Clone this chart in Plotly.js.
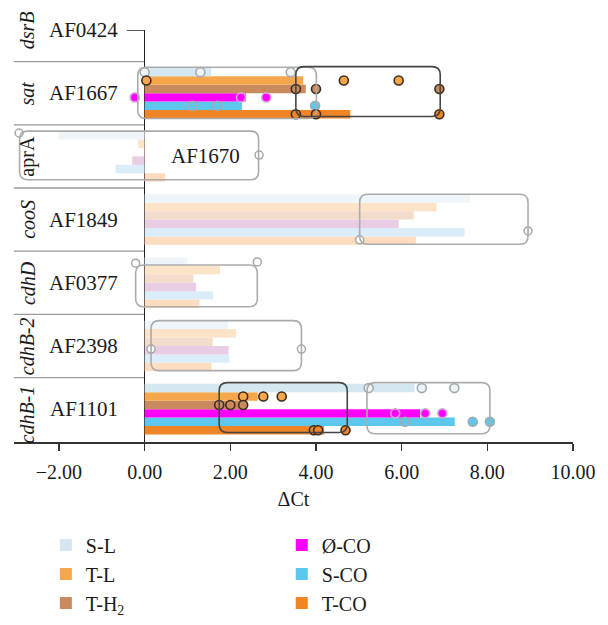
<!DOCTYPE html>
<html><head><meta charset="utf-8">
<script src="https://cdn.plot.ly/plotly-3.0.1.min.js"></script>
<style>html,body{margin:0;padding:0;background:#fff}#chart{width:608px;height:625px}</style>
</head><body><div id="chart"></div>
<script>
// ---- categories (top to bottom) ----
const genes = ['dsrB','sat','aprA','cooS','cdhD','cdhB-2','cdhB-1'];
const loci = ['AF0424','AF1667','AF1670','AF1849','AF0377','AF2398','AF1101'];
const italicName = [true,true,false,true,true,true,true];
const significant = [false,true,false,false,false,false,true];

// ---- series ----
const seriesNames = ['S-L','T-L','T-H<sub>2</sub>','Ø-CO','S-CO','T-CO'];
const valsSL  = [null, 1.55, -2.02, 7.60, 1.00, 1.95, 6.30];
const valsTL  = [null, 3.70, -0.15, 6.82, 1.76, 2.13, 2.64];
const valsTH2 = [null, 3.76, -0.02, 6.28, 1.14, 1.59, 2.28];
const valsOCO = [null, 2.36, -0.29, 5.93, 1.20, 1.96, 6.43];
const valsSCO = [null, 2.27, -0.68, 7.47, 1.60, 1.98, 7.24];
const valsTCO = [null, 4.80,  0.48, 6.33, 1.28, 1.56, 4.19];

// ---- replicate points ----
const replicateGenes = ['sat','sat','sat','cdhB-1','cdhB-1','cdhB-1'];
const repSL  = [0.00, 1.30, 3.41, 5.23, 6.47, 7.23];
const repTL  = [0.04, 4.65, 5.93, 2.30, 2.77, 3.20];
const repTH2 = [3.53, 4.00, 6.88, 1.74, 2.00, 2.30];
const repOCO = [-0.23, 2.25, 2.84, 5.85, 6.55, 6.95];
const repSCO = [1.11, 1.70, 3.98, 6.08, 7.66, 8.06];
const repTCO = [3.53, 4.00, 6.88, 3.95, 4.05, 4.69];

// ---- highlight boxes ----
const boxGene   = ['sat','aprA','cooS','cdhD','cdhB-2','cdhB-1','sat','cdhB-1'];
const boxX0     = [-0.16,-2.92,5.02,-0.21,0.15,5.19,3.53,1.74];
const boxX1     = [4.01,2.66,8.95,2.63,3.66,8.06,6.90,4.73];
const boxTop    = [0.41,0.40,0.40,0.28,0.40,0.42,0.42,0.42];
const boxBottom = [-0.40,-0.37,-0.39,-0.38,-0.39,-0.39,-0.37,-0.37];
const boxDark   = [false,false,false,false,false,false,true,true];
const handleGene = ['aprA','aprA','cooS','cooS','cdhD','cdhD','cdhB-2','cdhB-2'];
const handleX    = [-2.93,2.67,5.02,8.95,-0.21,2.63,0.15,3.66];
const handleDy   = [0.37,0.02,-0.32,-0.18,0.31,0.33,-0.05,-0.05];

// ---- styles ----
const colors = ['#d5e8f1','#f6a64b','#c98a5e','#ff00ff','#5cc8ee','#f08526'];
const faded  = ['#eef6fb','#fde3c8','#f3dccb','#e8cde4','#dcedfa','#fedcbf'];
const ptFill = ['#eef3f6','#f6a64b','#c98a5e','#ff00ff','#5cc8ee','#f08526'];
const ptLine = ['#a3abb0','#3b2c20','#3b2c20','#d2a6d2','#a3abb0','#3b2c20'];
const FONT = 'Liberation Serif, Times New Roman, serif';

const allVals = [valsSL, valsTL, valsTH2, valsOCO, valsSCO, valsTCO];
const allReps = [repSL, repTL, repTH2, repOCO, repSCO, repTCO];
const nS = seriesNames.length;
const catPos = genes.map((g,i) => genes.length-1-i);
const posOf = g => catPos[genes.indexOf(g)];
const BARGAP = 0.2;
const bw = (1-BARGAP)/nS;
const seriesOffset = s => (1-BARGAP)/2 - bw*(s+0.5);

const traces = [];
for (let s = nS-1; s >= 0; s--) {
  traces.push({
    type:'bar', orientation:'h', name: seriesNames[s],
    y: catPos, x: allVals[s],
    // empty rows keep the full colour so the legend swatch shows it
    marker:{color: genes.map((g,i)=> (significant[i] || allVals[s][i] === null) ? colors[s] : faded[s]), line:{width:0}},
    legend: s < 3 ? 'legend' : 'legend2',
    hoverinfo:'skip'
  });
}
for (let s = 0; s < nS; s++) {
  traces.push({
    type:'scatter', mode:'markers', showlegend:false, hoverinfo:'skip',
    x: allReps[s],
    y: replicateGenes.map(g => posOf(g) + seriesOffset(s)),
    marker:{size:9, color: ptFill[s], line:{color: ptLine[s], width:1.6}},
    cliponaxis:false
  });
}
traces.push({
  type:'scatter', mode:'markers', showlegend:false, hoverinfo:'skip',
  x: handleX, y: handleGene.map((g,i)=> posOf(g) + handleDy[i]),
  marker:{size:8, color:'#ffffff', line:{color:'#a8a8a8', width:1.5}},
  cliponaxis:false
});

const shapes = [];
for (let i = 0; i < genes.length-1; i++) {
  shapes.push({type:'line', xref:'x', yref:'y', x0:-3.05, x1:0, y0:catPos[i]-0.5, y1:catPos[i]-0.5,
    line:{color:'#9a9a9a', width:1.3}, layer:'below'});
}
shapes.push({type:'line', xref:'x', yref:'y', x0:-0.42, x1:0, y0:catPos[0], y1:catPos[0], line:{color:'#222', width:1.5}});
const rx = 0.19, ry = 0.13;
boxGene.forEach((g,i) => {
  const c = posOf(g);
  const x0 = boxX0[i], x1 = boxX1[i], y0 = c + boxBottom[i], y1 = c + boxTop[i];
  const p = `M ${x0+rx} ${y1} L ${x1-rx} ${y1} Q ${x1} ${y1} ${x1} ${y1-ry} L ${x1} ${y0+ry} Q ${x1} ${y0} ${x1-rx} ${y0} L ${x0+rx} ${y0} Q ${x0} ${y0} ${x0} ${y0+ry} L ${x0} ${y1-ry} Q ${x0} ${y1} ${x0+rx} ${y1} Z`;
  shapes.push({type:'path', xref:'x', yref:'y', path:p,
    line:{color: boxDark[i] ? '#454545' : '#ababab', width:1.6}, layer:'above'});
});

const annotations = [];
genes.forEach((g,i) => {
  const neg = (valsSL[i] !== null && valsSL[i] < -1);
  annotations.push({xref:'x', yref:'y', x: neg ? 1.43 : -1.42, y: catPos[i], text: loci[i], showarrow:false,
    font:{family:FONT, size:21, color:'#1a1a1a'}, xanchor:'center', yanchor:'middle'});
  annotations.push({xref:'x', yref:'y', x:-2.74, y: catPos[i] - (i === genes.length-1 ? 0.08 : 0), text: italicName[i] ? '<i>'+g+'</i>' : g,
    textangle:-90, showarrow:false, font:{family:FONT, size:20, color:'#1a1a1a'}, xanchor:'center', yanchor:'middle'});
});

const layout = {
  width:608, height:625,
  margin:{l:14, r:35, t:30, b:183, autoexpand:false},
  paper_bgcolor:'#fff', plot_bgcolor:'#fff',
  font:{family:FONT, size:20, color:'#1a1a1a'},
  barmode:'group', bargap:BARGAP, bargroupgap:0,
  xaxis:{range:[-3.05,10], tickmode:'array', tickvals:[-2,0,2,4,6,8,10],
    tickformat:'.2f', showgrid:false, zeroline:true, zerolinecolor:'#222', zerolinewidth:1.5,
    showline:true, linecolor:'#333', linewidth:1.5, ticks:'outside', ticklen:7, tickwidth:1.5, tickcolor:'#333',
    ticklabelstandoff:4, tickfont:{family:FONT, size:20, color:'#1a1a1a'}, automargin:false,
    title:{text:'ΔCt', font:{family:FONT, size:20, color:'#1a1a1a'}, standoff:10}, fixedrange:true},
  yaxis:{range:[-0.52,6], showgrid:false, zeroline:false, showline:false, showticklabels:false, ticks:'', fixedrange:true, automargin:false},
  shapes, annotations,
  legend:{x:0.057, y:-0.2026, xanchor:'left', yanchor:'top', traceorder:'reversed',
    font:{family:FONT, size:20, color:'#1a1a1a'}, bgcolor:'rgba(0,0,0,0)', tracegroupgap:0},
  legend2:{x:0.479, y:-0.2026, xanchor:'left', yanchor:'top', traceorder:'reversed',
    font:{family:FONT, size:20, color:'#1a1a1a'}, bgcolor:'rgba(0,0,0,0)', tracegroupgap:0},
  showlegend:true
};
Plotly.newPlot('chart', traces, layout, {displayModeBar:false, staticPlot:true});
</script></body></html>
